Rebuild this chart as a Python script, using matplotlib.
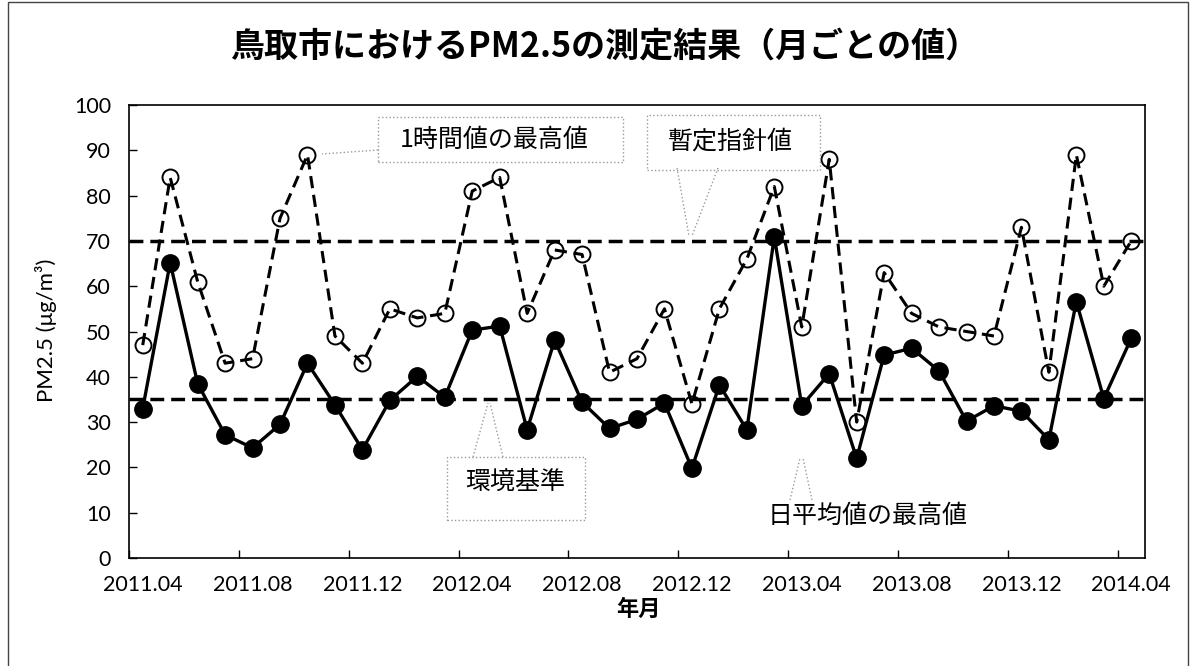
"""Monthly PM2.5 maxima in Tottori city, Apr 2011 - Apr 2014."""

import matplotlib
matplotlib.use("Agg")
import matplotlib.pyplot as plt
from matplotlib.patches import Rectangle
from matplotlib.lines import Line2D

plt.rcParams["font.family"] = ["Noto Sans CJK JP", "DejaVu Sans"]

W, H = 1192, 666

# monthly categories 2011.04 .. 2014.04
months = [f"{2011 + (3 + k) // 12}.{(3 + k) % 12 + 1:02d}" for k in range(37)]
tick_labels = ["2011.04", "2011.08", "2011.12", "2012.04", "2012.08",
               "2012.12", "2013.04", "2013.08", "2013.12", "2014.04"]

# 1時間値の最高値 (µg/m3)
hourly_max = [47, 84, 61, 43, 44, 75, 89, 49, 43, 55, 53, 54,
              81, 84, 54, 68, 67, 41, 44, 55, 34, 55, 66, 82, 51, 88,
              30, 63, 54, 51, 50, 49, 73, 41, 89, 60, 70]
# 日平均値の最高値 (µg/m3)
daily_max = [33.0, 65.2, 38.5, 27.2, 24.3, 29.5, 43.0, 33.8, 23.9, 34.8, 40.1, 35.5,
             50.3, 51.2, 28.3, 48.1, 34.4, 28.6, 30.6, 34.2, 19.8, 38.2, 28.3, 70.9, 33.6, 40.7,
             22.0, 44.8, 46.3, 41.3, 30.2, 33.6, 32.4, 26.1, 56.6, 35.2, 48.5]

env_standard = 35      # 環境基準
guideline = 70         # 暫定指針値

TICK_FONT = ["Lato", "DejaVu Sans"]


def fx(px):
    return px / W


def fy(py):
    return 1 - py / H


def main():
    fig = plt.figure(figsize=(W / 100, H / 100), dpi=100)
    fig.patch.set_facecolor("white")

    # outer chart frame
    fig.patches.append(Rectangle((fx(8), fy(668)), fx(1188) - fx(8), fy(2) - fy(668),
                                 transform=fig.transFigure, fill=False,
                                 edgecolor="#444444", linewidth=1.0))

    ax = fig.add_axes([fx(129), fy(558), fx(1145) - fx(129), fy(105) - fy(558)])
    x = list(range(len(months)))

    ax.axhline(guideline, color="black", lw=2.5, ls=(0, (4, 2)), zorder=2)
    ax.axhline(env_standard, color="black", lw=2.5, ls=(0, (4, 2)), zorder=2)

    ax.plot(x, hourly_max, color="black", lw=2.2, ls=(0, (4, 2.2)),
            marker="o", markersize=11.5, markerfacecolor="none",
            markeredgecolor="black", markeredgewidth=1.4, zorder=3)
    ax.plot(x, daily_max, color="black", lw=2.4, ls="-",
            marker="o", markersize=12.5, markerfacecolor="black",
            markeredgecolor="black", zorder=4)

    ax.set_xlim(-0.5, len(months) - 0.5)
    ax.set_ylim(0, 100)

    # tick marks on category boundaries, labels under every 4th month
    ax.set_xticks([i - 0.5 for i in range(0, len(months), 4)])
    ax.set_xticklabels([])
    ax.set_xticks(list(range(0, len(months), 4)), minor=True)
    ax.set_xticklabels(tick_labels, minor=True, family=TICK_FONT, fontsize=15.5)
    ax.tick_params(axis="x", which="major", direction="in", length=6, width=1)
    ax.tick_params(axis="x", which="minor", length=0, pad=12)

    ax.set_yticks(range(0, 101, 10))
    ax.set_yticklabels([str(v) for v in range(0, 101, 10)], family=TICK_FONT, fontsize=15.5)
    ax.tick_params(axis="y", direction="in", length=6, width=1, pad=13)

    for s in ax.spines.values():
        s.set_linewidth(1.2)
        s.set_color("black")

    fig.text(fx(605), fy(46), "鳥取市におけるPM2.5の測定結果（月ごとの値）",
             ha="center", va="center", fontsize=24.5, fontweight="bold")
    fig.text(fx(46), fy(330), "PM2.5 (μg/m³)", rotation=90,
             ha="center", va="center", fontsize=16, family=TICK_FONT)
    fig.text(fx(638), fy(609), "年月", ha="center", va="center", fontsize=16,
             fontweight="bold")

    # callout labels
    faint = dict(color="#9a9a9a", lw=1.0, ls=":")
    boxes = [(378, 117, 623, 162), (647, 115, 820, 170), (447, 457, 585, 520)]
    for x0, y0, x1, y1 in boxes:
        fig.patches.append(Rectangle((fx(x0), fy(y1)), fx(x1) - fx(x0), fy(y0) - fy(y1),
                                     transform=fig.transFigure, fill=False,
                                     edgecolor="#9a9a9a", linewidth=1.0, linestyle=":"))
    leaders = [((677, 168), (689, 236)), ((718, 168), (692, 236)),
               ((473, 457), (488, 403)), ((503, 457), (490, 403)),
               ((378, 150), (322, 154)), ((790, 500), (800, 458)), ((812, 500), (803, 458))]
    for (x0, y0), (x1, y1) in leaders:
        fig.lines.append(Line2D([fx(x0), fx(x1)], [fy(y0), fy(y1)],
                                transform=fig.transFigure, **faint))

    fig.text(fx(494), fy(140), "1時間値の最高値", ha="center", va="center", fontsize=18)
    fig.text(fx(730), fy(142), "暫定指針値", ha="center", va="center", fontsize=18)
    fig.text(fx(515), fy(482), "環境基準", ha="center", va="center", fontsize=18)
    fig.text(fx(868), fy(516), "日平均値の最高値", ha="center", va="center", fontsize=18)

    fig.savefig("out.png", dpi=100)
    plt.close(fig)


if __name__ == "__main__":
    main()
